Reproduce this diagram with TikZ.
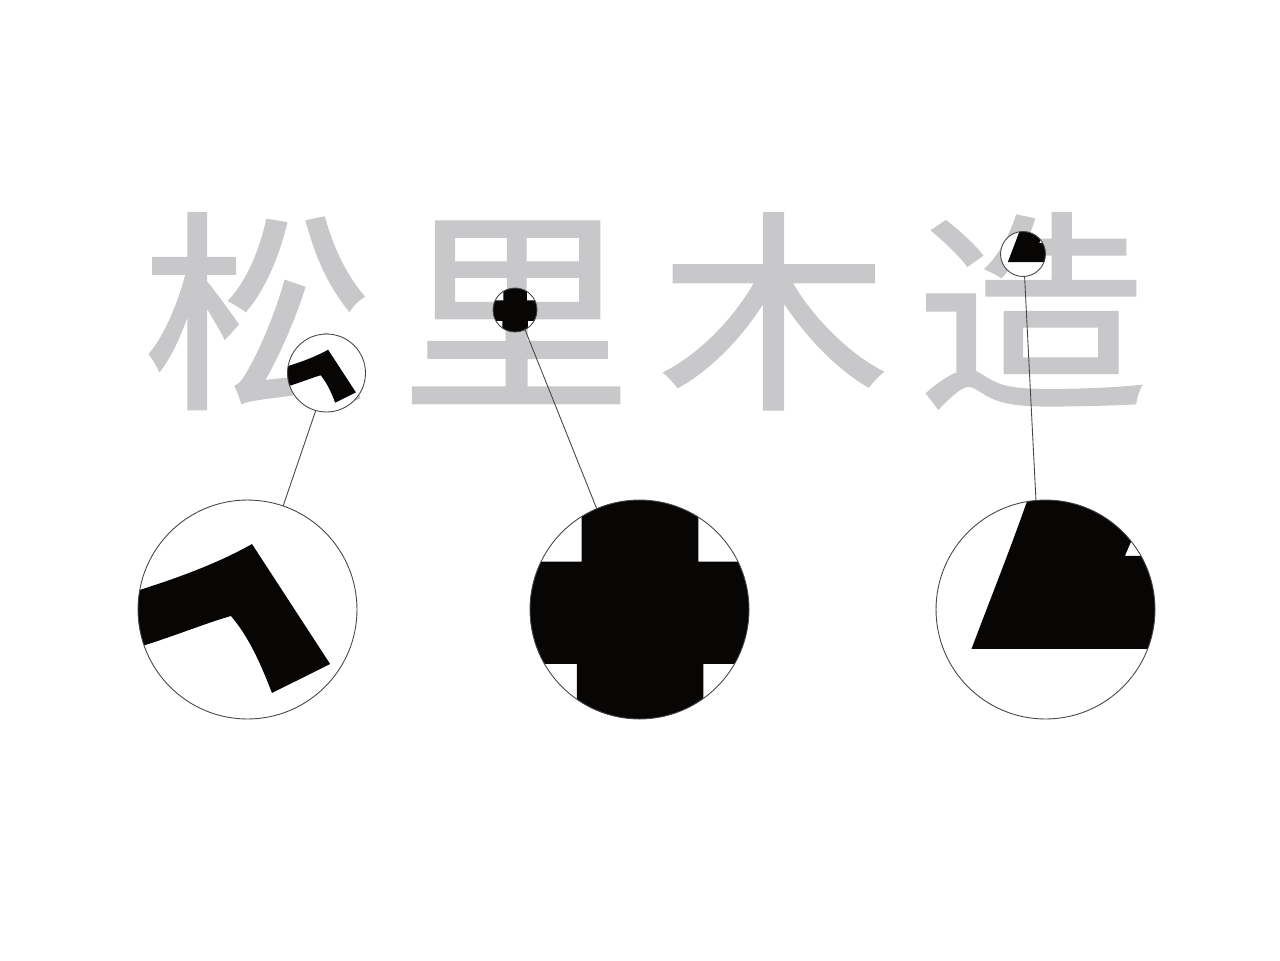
\documentclass[tikz,border=0pt]{standalone}
\usepackage{fontspec}
\newfontfamily\cjk[FakeStretch=1.08, FakeBold=1.5]{Noto Sans CJK SC}
\definecolor{glyphgray}{RGB}{200,200,202}
\definecolor{ink}{RGB}{8,5,5}
\definecolor{rim}{RGB}{70,70,70}
\newcommand{\wordmark}{\makebox[5.16cm]{松}\makebox[5.16cm]{里}\makebox[5.16cm]{木}\makebox[5.16cm]{造}}
% detail outlines, in the coordinates of the small lenses
\newcommand{\bendpath}{(281.1,368.2) .. controls (302.5,361.8) and (316.7,356.1) .. (328.1,349.7)
    -- (355.9,392.4) -- (335.2,402.7) .. controls (331.0,391.7) and (326.7,382.4) .. (320.6,375.3)
    .. controls (309.6,378.5) and (299.0,383.2) .. (281.1,388.4) -- cycle}
\newcommand{\crosspath}{(503.4,280) -- (526.8,280) -- (526.8,300.4) -- (545,300.4) -- (545,320.9)
    -- (527.8,320.9) -- (527.8,340) -- (502.4,340) -- (502.4,320.9) -- (485,320.9) -- (485,300.4)
    -- (503.4,300.4) -- cycle}
\newcommand{\peakpath}{(1020.0,229.5) -- (1045.1,229.5) -- (1039.3,243.0) -- (1048.6,243.0)
    -- (1048.6,262.1) -- (1007.8,262.1) .. controls (1011.6,252.0) and (1016.1,240.8) .. (1020.0,229.5) -- cycle}

\tikzset{
  word/.style={anchor=base west, inner sep=0pt, outer sep=0pt,
    font=\cjk\fontsize{121pt}{121pt}\selectfont},
  lens/.style={circle, draw=rim, line width=0.5pt, inner sep=0pt, outer sep=0pt},
  leader/.style={draw=rim, line width=0.5pt}
}

\begin{document}
\begin{tikzpicture}[x=0.02cm, y=-0.02cm]
    \useasboundingbox (0,0) rectangle (1280,960);
    \node[word, text=glyphgray] (word) at (129,392) {\wordmark};

    % black detail inside the small lenses
    \begin{scope}
        \clip (326.5,373) circle[radius=39];
        \fill[white] (326.5,373) circle[radius=39];
        \fill[ink] \bendpath;
    \end{scope}
    \begin{scope}
        \clip (515,310) circle[radius=22];
        \fill[white] (515,310) circle[radius=22];
        \fill[ink] \crosspath;
    \end{scope}
    \begin{scope}
        \clip (1023,254) circle[radius=22.5];
        \fill[white] (1023,254) circle[radius=22.5];
        \fill[ink] \peakpath;
    \end{scope}

    % the same detail, enlarged
    \begin{scope}
        \clip (247.5,609.5) circle[radius=109.5];
        \fill[ink, shift={(247.5,609.5)}, scale=2.81, shift={(-326.5,-373)}] \bendpath;
    \end{scope}
    \begin{scope}
        \clip (639.5,609.5) circle[radius=109.5];
        \fill[ink, shift={(639.5,609.5)}, scale=4.98, shift={(-515,-310)}] \crosspath;
    \end{scope}
    \begin{scope}
        \clip (1045.5,609.5) circle[radius=109.5];
        \fill[ink, shift={(1045.5,609.5)}, scale=4.87, shift={(-1023,-254)}] \peakpath;
    \end{scope}

    % lenses
    \node[lens, minimum size=1.56cm] (s1) at (326.5,373) {};
    \node[lens, minimum size=0.88cm] (s2) at (515,310) {};
    \node[lens, minimum size=0.9cm] (s3) at (1023,254) {};
    \node[lens, minimum size=4.38cm] (b1) at (247.5,609.5) {};
    \node[lens, minimum size=4.38cm] (b2) at (639.5,609.5) {};
    \node[lens, minimum size=4.38cm] (b3) at (1045.5,609.5) {};

    % leaders
    \draw[leader] (s1.-106) -- (b1.71);
    \draw[leader] (s2.-63) -- (b2.113);
    \draw[leader] (s3.-86) -- (b3.95);
\end{tikzpicture}
\end{document}
